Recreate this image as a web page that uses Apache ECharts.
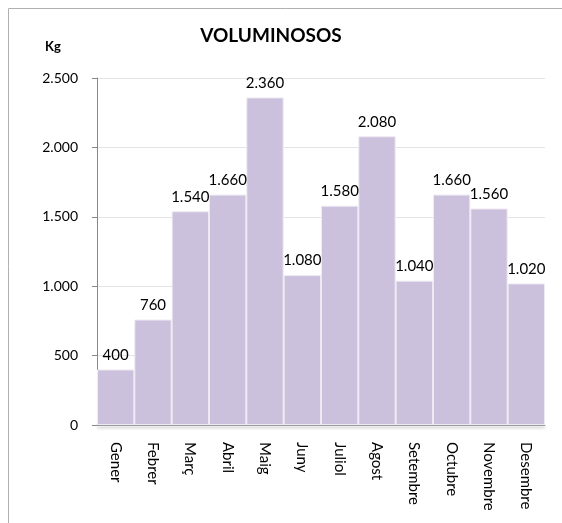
<!DOCTYPE html>
<html>
<head>
<meta charset="utf-8">
<script src="https://cdn.jsdelivr.net/npm/echarts@6/dist/echarts.min.js"></script>
<style>
  html, body { margin: 0; padding: 0; background: #fff; }
  #chart { width: 562px; height: 523px; }
</style>
</head>
<body>
<div id="chart"></div>
<script>
const months = ["Gener", "Febrer", "Març", "Abril", "Maig", "Juny", "Juliol", "Agost", "Setembre", "Octubre", "Novembre", "Desembre"];
const kg = [400, 760, 1540, 1660, 2360, 1080, 1580, 2080, 1040, 1660, 1560, 1020];
const yTicks = [0, 500, 1000, 1500, 2000, 2500];

const font = "Lato, 'Open Sans', sans-serif";

function fmt(v) {
  return String(v).replace(/\B(?=(\d{3})+(?!\d))/g, ".");
}

const myChart = echarts.init(document.getElementById("chart"));

myChart.setOption({
  animation: false,
  textStyle: { fontFamily: font },
  graphic: [
    {
      type: "rect",
      shape: { x: 8.5, y: 8.5, width: 700, height: 700 },
      style: { fill: "none", stroke: "#b0b0b0", lineWidth: 1 }
    },
    {
      type: "text",
      x: 271, y: 36,
      style: {
        text: "VOLUMINOSOS", font: "bold 19px " + font, fill: "#000",
        textAlign: "center", textVerticalAlign: "middle"
      }
    },
    {
      type: "text",
      x: 45, y: 47,
      style: { text: "Kg", font: "bold 13px " + font, fill: "#000", textVerticalAlign: "middle" }
    }
  ],
  grid: { left: 97, right: 17, top: 78, bottom: 98 },
  xAxis: {
    type: "category",
    data: months,
    axisLine: { lineStyle: { color: "#9a9a9a", width: 1, shadowColor: "rgba(0,0,0,0.35)", shadowBlur: 3, shadowOffsetY: 2 } },
    axisTick: { show: false },
    axisLabel: { rotate: -90, margin: 17, fontSize: 15, color: "#000", fontFamily: font }
  },
  yAxis: {
    type: "value",
    min: yTicks[0],
    max: yTicks[yTicks.length - 1],
    interval: 500,
    axisLine: { show: true, lineStyle: { color: "#888" } },
    axisTick: { show: true, length: 5, lineStyle: { color: "#888" } },
    splitLine: { lineStyle: { color: "#e4e4e4" } },
    axisLabel: { formatter: fmt, fontSize: 14, color: "#000", margin: 19, fontFamily: font }
  },
  series: [
    {
      type: "bar",
      data: kg,
      barCategoryGap: "0%",
      itemStyle: {
        color: "#ccc1dc",
        borderColor: "#eeeaf3",
        borderWidth: 1
      },
      label: {
        show: true,
        position: "top",
        distance: 7,
        formatter: p => fmt(p.value),
        fontSize: 15,
        color: "#000",
        fontFamily: font
      }
    }
  ]
});
</script>
</body>
</html>
